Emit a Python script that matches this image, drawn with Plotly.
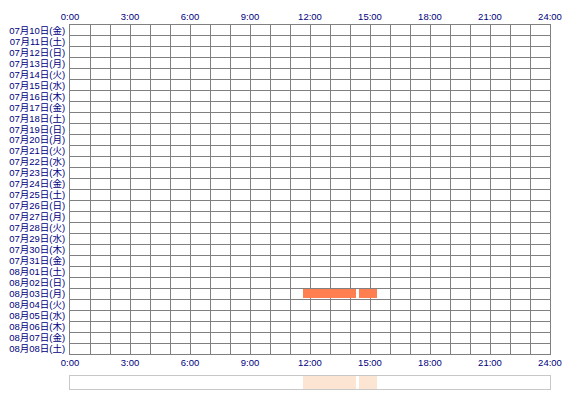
import plotly.graph_objects as go

# rows of the chart (one per day)
days = ["07月10日(金)", "07月11日(土)", "07月12日(日)", "07月13日(月)", "07月14日(火)",
        "07月15日(水)", "07月16日(木)", "07月17日(金)", "07月18日(土)", "07月19日(日)",
        "07月20日(月)", "07月21日(火)", "07月22日(水)", "07月23日(木)", "07月24日(金)",
        "07月25日(土)", "07月26日(日)", "07月27日(月)", "07月28日(火)", "07月29日(水)",
        "07月30日(木)", "07月31日(金)", "08月01日(土)", "08月02日(日)", "08月03日(月)",
        "08月04日(火)", "08月05日(水)", "08月06日(木)", "08月07日(金)", "08月08日(土)"]

# active periods (hours of the day)
session_days = ["08月03日(月)", "08月03日(月)"]
session_start = [11.65, 14.45]
session_end = [14.3, 15.35]

hour_ticks = [0, 3, 6, 9, 12, 15, 18, 21, 24]
hour_labels = ["0:00", "3:00", "6:00", "9:00", "12:00", "15:00", "18:00", "21:00", "24:00"]

row_pos = [days.index(d) + 0.5 for d in session_days]
durations = [e - s for s, e in zip(session_start, session_end)]

font = dict(family="Liberation Sans, Noto Sans CJK JP", size=9.5, color="#000080")
grid = "#808080"

fig = go.Figure()

fig.add_trace(go.Bar(
    y=row_pos, x=durations, base=session_start, orientation="h",
    width=0.88, marker=dict(color="#FF7F50", line=dict(width=0)),
    xaxis="x", yaxis="y", hoverinfo="skip", showlegend=False))

# summary strip below the grid
fig.add_trace(go.Bar(
    y=[0.5] * len(session_start), x=durations, base=session_start, orientation="h",
    width=1, marker=dict(color="#FDE5D3", line=dict(width=0)),
    xaxis="x2", yaxis="y2", hoverinfo="skip", showlegend=False))

# dummy trace so bottom hour axis is drawn
fig.add_trace(go.Scatter(x=[0, 24], y=[0, 0], mode="markers", marker=dict(opacity=0),
                         xaxis="x3", yaxis="y", hoverinfo="skip", showlegend=False))

# page body has an 8px margin, so the figure is shifted up/left by 8px
fig.update_layout(
    width=570, height=400,
    margin=dict(l=62, r=28, t=17, b=19, autoexpand=False),
    paper_bgcolor="white", plot_bgcolor="white",
    font=font,
    bargap=0,
    xaxis=dict(range=[0, 24], domain=[0, 1], anchor="y", side="top", automargin=False,
               tickvals=hour_ticks, ticktext=hour_labels, ticks="",
               showgrid=True, gridcolor=grid, gridwidth=1,
               minor=dict(dtick=1, tick0=0, showgrid=True, gridcolor=grid, gridwidth=1),
               showline=True, linecolor=grid, mirror=True, zeroline=False,
               fixedrange=True),
    xaxis3=dict(range=[0, 24], overlaying="x", anchor="y", side="bottom", automargin=False,
                tickvals=hour_ticks, ticktext=hour_labels, ticks="", ticklabelstandoff=2,
                showgrid=False, zeroline=False, showline=False, fixedrange=True),
    yaxis=dict(range=[len(days), 0], domain=[0.0962, 1], anchor="x", automargin=False,
               tickvals=[i + 0.5 for i in range(len(days))], ticktext=days, ticks="",
               ticklabelstandoff=2, showgrid=False,
               minor=dict(dtick=1, tick0=0, showgrid=True, gridcolor=grid, gridwidth=1),
               showline=True, linecolor=grid, mirror=True, zeroline=False,
               fixedrange=True),
    xaxis2=dict(range=[0, 24], domain=[0, 1], anchor="y2", showticklabels=False,
                ticks="", showgrid=False, zeroline=False, automargin=False,
                showline=True, linecolor="#C8C8C8", mirror=True, fixedrange=True),
    yaxis2=dict(range=[0, 1], domain=[0, 0.0357], anchor="x2", showticklabels=False,
                ticks="", showgrid=False, zeroline=False, automargin=False,
                showline=True, linecolor="#C8C8C8", mirror=True, fixedrange=True),
)

fig.write_html("out.html")
